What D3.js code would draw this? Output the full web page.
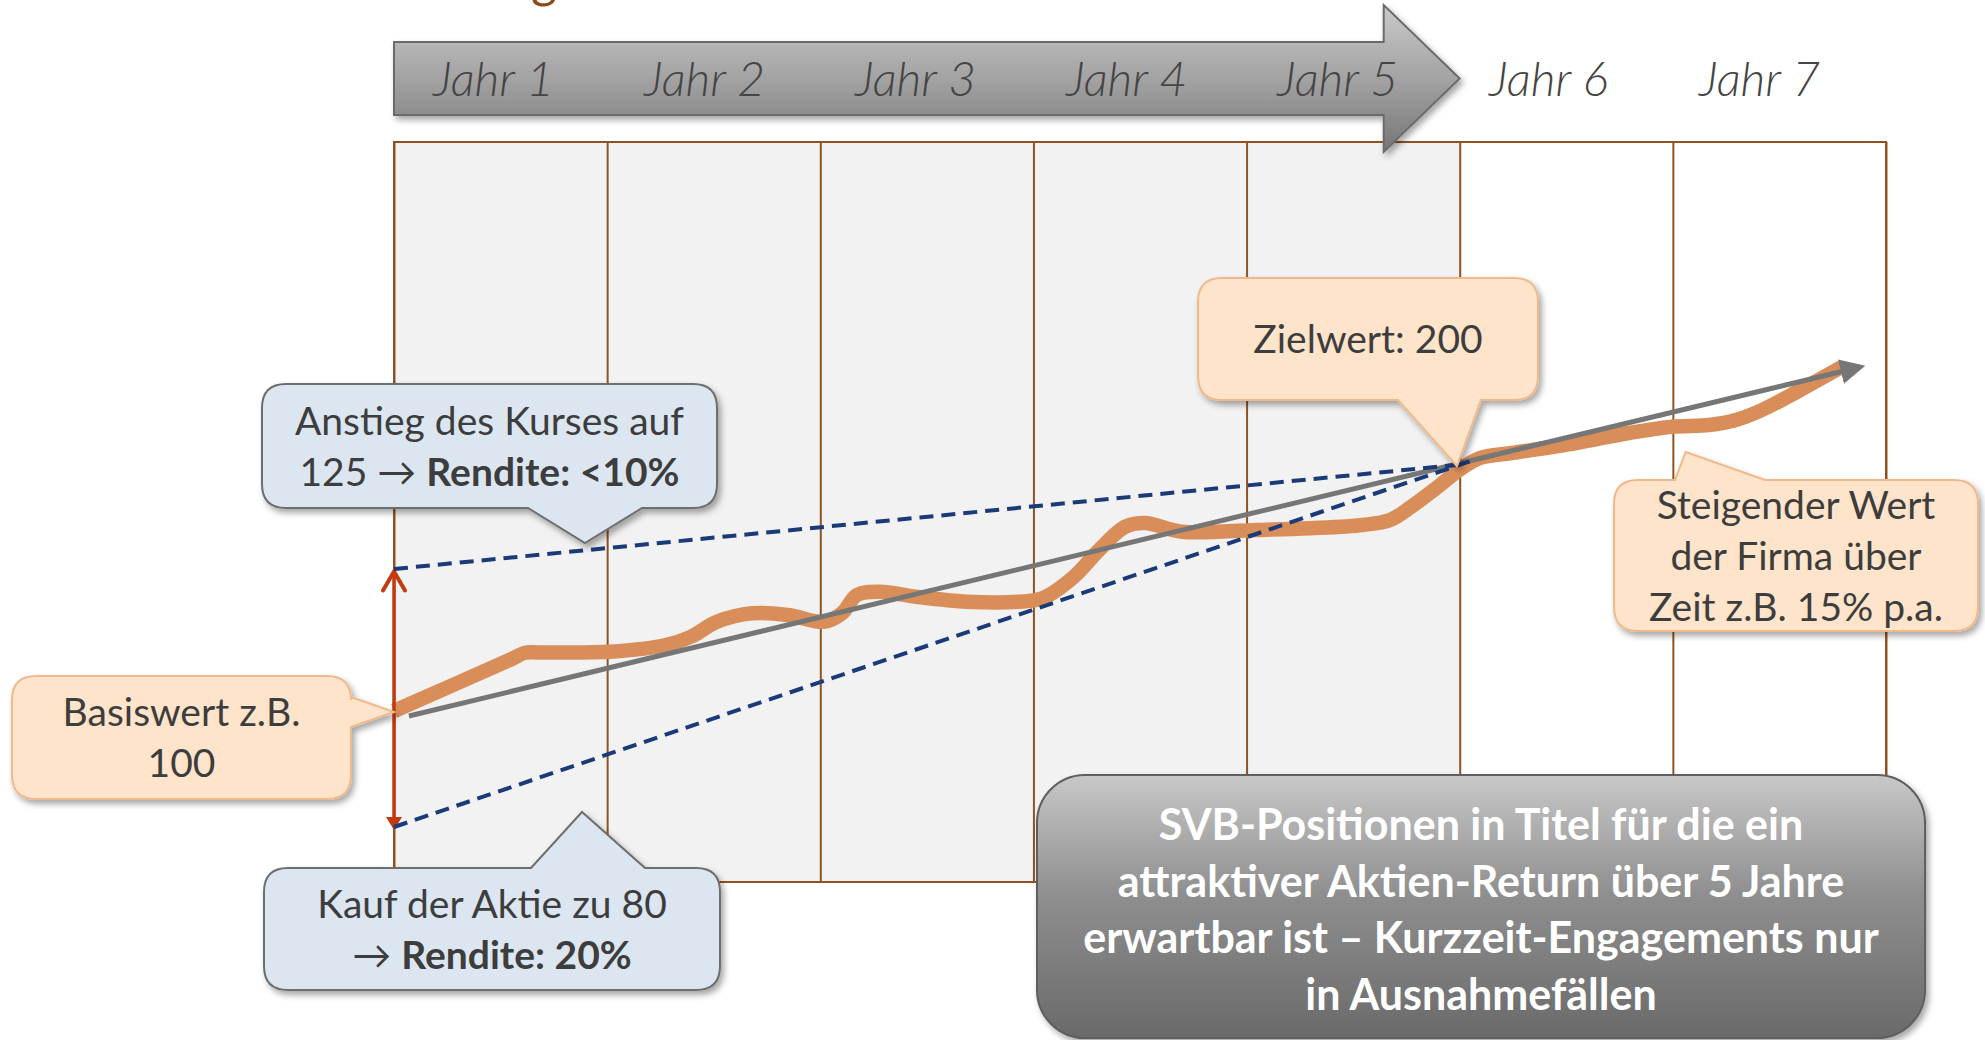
<!DOCTYPE html>
<html>
<head>
<meta charset="utf-8">
<script src="https://cdn.jsdelivr.net/npm/d3@7"></script>
<style>
  body { margin: 0; background: #fff; }
  svg { display: block; font-family: Lato, "Open Sans", sans-serif; }
</style>
</head>
<body>
<div id="chart"></div>
<script>
// year columns along the time axis, the first five are the investment horizon
var years = ["Jahr 1", "Jahr 2", "Jahr 3", "Jahr 4", "Jahr 5", "Jahr 6", "Jahr 7"];
var horizonYears = 5;

// share price (orange), x in years, y in value units (Basiswert = 100, Zielwert = 200)
var kursX = [0, 0.55, 0.615, 0.68, 1.013, 1.276, 1.393, 1.515, 1.68, 1.849, 2.017, 2.102, 2.172, 2.28, 2.449,
	2.688, 2.928, 3.045, 3.19, 3.308, 3.43, 3.524, 3.697, 4.044, 4.298, 4.546, 4.673, 4.772,
	4.898, 4.997, 5.095, 5.245, 5.546, 5.794, 5.996, 6.17, 6.296, 6.418, 6.597, 6.794];
var kursY = [101.2, 121.9, 124.5, 124.6, 124.9, 127.6, 130.9, 136.9, 140.3, 139.6, 136.9, 140.3, 147.6, 148.9, 146.9,
	144.9, 144.9, 146.4, 154.9, 165.6, 174.9, 176.4, 172.9, 173.6, 174.3, 175.6, 177.6, 182.9,
	190.9, 197.6, 202.4, 204.4, 208.4, 212.4, 214.9, 215.6, 217.6, 221.6, 229.6, 238.9];

// company value trend (gray arrow)
var trendX = [0.07, 6.88];
var trendY = [99.2, 238.8];

// entry price lines to the target value (dashed)
var hochX = [0, 5.03];
var hochY = [158, 200];
var tiefX = [0, 5.08];
var tiefY = [54.8, 202];

// spread of entry prices (red double arrow)
var spanneY = [157, 53.6];

// callout anchors (tip of the pointer) in data units
var ankerX = { anstieg: 0.896, kauf: 0.882, basis: 0, ziel: 4.987, firma: 6.06 };
var ankerY = { anstieg: 168.4, kauf: 60.8, basis: 100.8, ziel: 199.2, firma: 204.8 };

var titelRest = "g";
var svbText = ["SVB-Positionen in Titel für die ein", "attraktiver Aktien-Return über 5 Jahre",
	"erwartbar ist – Kurzzeit-Engagements nur", "in Ausnahmefällen"];

var width = 1985, height = 1040;
var plot = { left: 394, right: 1886, top: 142, bottom: 882 };

var x = d3.scaleLinear().domain([0, years.length]).range([plot.left, plot.right]);
var y = d3.scaleLinear().domain([100, 200]).range([714, 464]);
// year labels sit a little tighter than the columns
var band = d3.scaleBand().domain(years).range([388, 1865]);

var svg = d3.select("#chart").append("svg")
	.attr("width", width)
	.attr("height", height);

var defs = svg.append("defs");

// soft drop shadow used by the boxes
defs.append("filter")
	.attr("id", "shadow")
	.attr("x", "-10%").attr("y", "-10%").attr("width", "130%").attr("height", "140%")
	.append("feDropShadow")
	.attr("dx", 3).attr("dy", 4).attr("stdDeviation", 3)
	.attr("flood-color", "#000").attr("flood-opacity", 0.35);

function gradient(id, stops) {
	var g = defs.append("linearGradient").attr("id", id)
		.attr("x1", 0).attr("y1", 0).attr("x2", 0).attr("y2", 1);
	stops.forEach(function (s) {
		g.append("stop").attr("offset", s[0]).attr("stop-color", s[1]);
	});
}
gradient("arrowGrad", [[0, "#c9c9c9"], [0.5, "#a3a3a3"], [1, "#767676"]]);
gradient("svbGrad", [[0, "#c8c8c8"], [0.45, "#8f8f8f"], [1, "#6a6a6a"]]);

defs.append("marker")
	.attr("id", "trendHead")
	.attr("viewBox", "0 0 10 10")
	.attr("refX", 8).attr("refY", 5)
	.attr("markerWidth", 5).attr("markerHeight", 5)
	.attr("orient", "auto")
	.append("path")
	.attr("d", "M0,0 L10,5 L0,10 z")
	.attr("fill", "#767676");

// cut off slide title at the very top
svg.append("text")
	.attr("x", 544).attr("y", -3)
	.attr("text-anchor", "middle")
	.attr("font-size", 50)
	.attr("fill", "#8c4a1a")
	.text(titelRest);

// shaded horizon columns
svg.append("rect")
	.attr("x", x(0)).attr("y", plot.top)
	.attr("width", x(horizonYears) - x(0))
	.attr("height", plot.bottom - plot.top)
	.attr("fill", "#f2f2f2");

// vertical grid lines
var grid = svg.append("g")
	.attr("transform", "translate(0," + plot.bottom + ")")
	.call(d3.axisBottom(x).ticks(years.length).tickSize(-(plot.bottom - plot.top)).tickFormat(""));
grid.select(".domain").remove();
grid.selectAll(".tick line").attr("stroke", "#8f5223").attr("stroke-width", 2);

svg.append("rect")
	.attr("x", plot.left).attr("y", plot.top)
	.attr("width", plot.right - plot.left)
	.attr("height", plot.bottom - plot.top)
	.attr("fill", "none")
	.attr("stroke", "#8f5223")
	.attr("stroke-width", 2);

// big time arrow over the first five years
var ay = 78.5, bodyH = 73, headH = 147, headL = 76;
svg.append("path")
	.attr("d", [
		"M", x(0), ay - bodyH / 2,
		"L", x(horizonYears) - headL, ay - bodyH / 2,
		"L", x(horizonYears) - headL, ay - headH / 2,
		"L", x(horizonYears), ay,
		"L", x(horizonYears) - headL, ay + headH / 2,
		"L", x(horizonYears) - headL, ay + bodyH / 2,
		"L", x(0), ay + bodyH / 2, "Z"].join(" "))
	.attr("fill", "url(#arrowGrad)")
	.attr("stroke", "#6b6b6b")
	.attr("stroke-width", 2)
	.attr("filter", "url(#shadow)");

svg.selectAll(".jahr")
	.data(years)
	.enter().append("text")
	.attr("class", "jahr")
	.attr("x", function (d) { return band(d) + band.bandwidth() / 2; })
	.attr("y", ay)
	.attr("dy", "0.36em")
	.attr("text-anchor", "middle")
	.attr("font-size", 48)
	.attr("font-style", "italic")
	.attr("font-weight", 300)
	.attr("fill", "#454545")
	.text(function (d) { return d; });

var line = d3.line()
	.x(function (d) { return x(d[0]); })
	.y(function (d) { return y(d[1]); });

// share price
svg.append("path")
	.datum(d3.zip(kursX, kursY))
	.attr("d", line.curve(d3.curveCatmullRom.alpha(0.5)))
	.attr("fill", "none")
	.attr("stroke", "#d98e5a")
	.attr("stroke-width", 14.5)
	.attr("stroke-linejoin", "round");

line.curve(d3.curveLinear);

// red spread arrow
svg.append("line")
	.attr("x1", x(0)).attr("x2", x(0))
	.attr("y1", y(spanneY[0]) + 4).attr("y2", y(spanneY[1]) - 10)
	.attr("stroke", "#c23a10")
	.attr("stroke-width", 3.5);
svg.append("path")
	.attr("d", "M" + (x(0) - 11) + "," + (y(spanneY[0]) + 19) + " L" + x(0) + "," + y(spanneY[0]) +
		" L" + (x(0) + 11) + "," + (y(spanneY[0]) + 19))
	.attr("fill", "none")
	.attr("stroke", "#c23a10")
	.attr("stroke-width", 4)
	.attr("stroke-linecap", "round");
svg.append("path")
	.attr("d", "M" + (x(0) - 8) + "," + (y(spanneY[1]) - 13) + " L" + x(0) + "," + y(spanneY[1]) +
		" L" + (x(0) + 8) + "," + (y(spanneY[1]) - 13) + " Z")
	.attr("fill", "#c23a10");

// company value trend
svg.append("path")
	.datum(d3.zip(trendX, trendY))
	.attr("d", line)
	.attr("stroke", "#767676")
	.attr("stroke-width", 5)
	.attr("marker-end", "url(#trendHead)");

// entry price lines
[[hochX, hochY], [tiefX, tiefY]].forEach(function (l) {
	svg.append("path")
		.datum(d3.zip(l[0], l[1]))
		.attr("d", line)
		.attr("fill", "none")
		.attr("stroke", "#1b3a78")
		.attr("stroke-width", 4)
		.attr("stroke-dasharray", "14,8");
});

// rounded box with a pointer wedge on one side
function calloutPath(b, side, a1, a2, tip) {
	var r = b.r, x0 = b.x, y0 = b.y, x1 = b.x + b.w, y1 = b.y + b.h;
	var p = d3.path();
	p.moveTo(x0 + r, y0);
	if (side === "top") { p.lineTo(a1, y0); p.lineTo(tip[0], tip[1]); p.lineTo(a2, y0); }
	p.lineTo(x1 - r, y0);
	p.quadraticCurveTo(x1, y0, x1, y0 + r);
	if (side === "right") { p.lineTo(x1, a1); p.lineTo(tip[0], tip[1]); p.lineTo(x1, a2); }
	p.lineTo(x1, y1 - r);
	p.quadraticCurveTo(x1, y1, x1 - r, y1);
	if (side === "bottom") { p.lineTo(a2, y1); p.lineTo(tip[0], tip[1]); p.lineTo(a1, y1); }
	p.lineTo(x0 + r, y1);
	p.quadraticCurveTo(x0, y1, x0, y1 - r);
	p.lineTo(x0, y0 + r);
	p.quadraticCurveTo(x0, y0, x0 + r, y0);
	p.closePath();
	return p.toString();
}

var blau = { fill: "#dce6f0", stroke: "#6e6e6e" };
var pfirsich = { fill: "#fde4ca", stroke: "#f0b98c" };

var callouts = [
	{ key: "anstieg", box: { x: 262, y: 384, w: 455, h: 124, r: 24 }, side: "bottom", a: [528, 642], style: blau,
		lines: [[["Anstieg des Kurses auf", false]], [["125 → ", false], ["Rendite: <10%", true]]] },
	{ key: "kauf", box: { x: 264, y: 868, w: 456, h: 122, r: 24 }, side: "top", a: [531, 645], style: blau,
		lines: [[["Kauf der Aktie zu 80", false]], [["→ ", false], ["Rendite: 20%", true]]] },
	{ key: "basis", box: { x: 12, y: 676, w: 339, h: 123, r: 24 }, side: "right", a: [697, 727], style: pfirsich,
		lines: [[["Basiswert z.B.", false]], [["100", false]]] },
	{ key: "ziel", box: { x: 1198, y: 278, w: 340, h: 122, r: 24 }, side: "bottom", a: [1398, 1481], style: pfirsich,
		lines: [[["Zielwert: 200", false]]] },
	{ key: "firma", box: { x: 1614, y: 480, w: 364, h: 151, r: 24 }, side: "top", a: [1675, 1765], style: pfirsich,
		lines: [[["Steigender Wert", false]], [["der Firma über", false]], [["Zeit z.B. 15% p.a.", false]]] }
];

var lineGap = 51;
callouts.forEach(function (c) {
	var g = svg.append("g");
	var tip = [x(ankerX[c.key]), y(ankerY[c.key])];
	g.append("path")
		.attr("d", calloutPath(c.box, c.side, c.a[0], c.a[1], tip))
		.attr("fill", c.style.fill)
		.attr("stroke", c.style.stroke)
		.attr("stroke-width", 2)
		.attr("filter", "url(#shadow)");
	var cx = c.box.x + c.box.w / 2, cy = c.box.y + c.box.h / 2;
	var start = cy - (c.lines.length - 1) * lineGap / 2;
	c.lines.forEach(function (segs, i) {
		var t = g.append("text")
			.attr("x", cx).attr("y", start + i * lineGap)
			.attr("dy", "0.36em")
			.attr("text-anchor", "middle")
			.attr("font-size", 39)
			.attr("fill", "#3d3d3d");
		segs.forEach(function (s) {
			t.append("tspan")
				.attr("font-weight", s[1] ? 700 : 400)
				.text(s[0]);
		});
	});
});

// summary box
var svb = { x: 1037, y: 775, w: 888, h: 263 };
svg.append("rect")
	.attr("x", svb.x).attr("y", svb.y)
	.attr("width", svb.w).attr("height", svb.h)
	.attr("rx", 48).attr("ry", 48)
	.attr("fill", "url(#svbGrad)")
	.attr("stroke", "#5e5e5e")
	.attr("stroke-width", 2)
	.attr("filter", "url(#shadow)");

svg.selectAll(".svb")
	.data(svbText)
	.enter().append("text")
	.attr("class", "svb")
	.attr("x", svb.x + svb.w / 2)
	.attr("y", function (d, i) { return 825 + i * 56.5; })
	.attr("dy", "0.36em")
	.attr("text-anchor", "middle")
	.attr("font-size", 43)
	.attr("font-weight", 700)
	.attr("fill", "#ffffff")
	.text(function (d) { return d; });
</script>
</body>
</html>
